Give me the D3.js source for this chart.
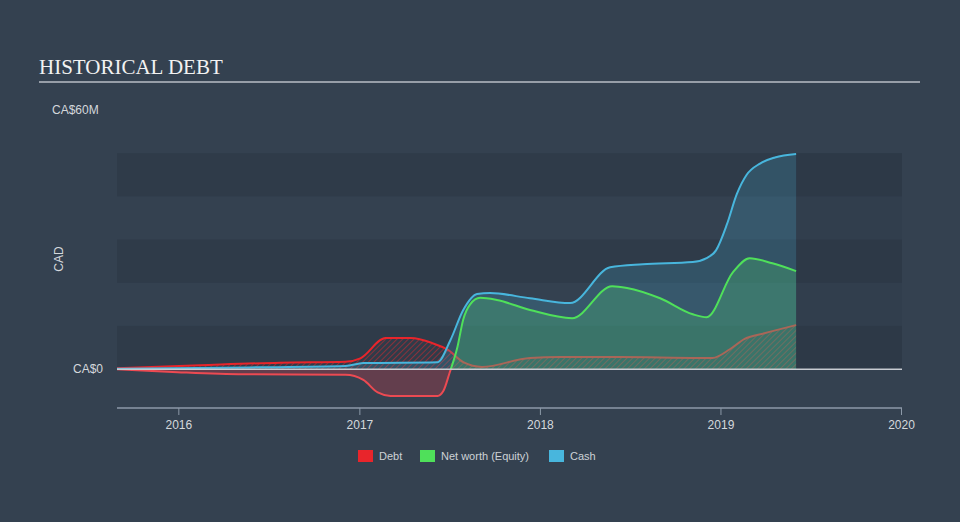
<!DOCTYPE html>
<html><head><meta charset="utf-8">
<script src="https://cdn.jsdelivr.net/npm/d3@7"></script>
<style>
html,body{margin:0;padding:0;background:#344150;}
svg{display:block;font-family:"Liberation Sans",Arial,sans-serif;}
</style></head>
<body><svg id="c" width="960" height="522"></svg>
<script>
// Values in CA$ millions
const debtDates = ["2015-08-30","2016-02-14","2016-07-25","2016-12-04","2017-01-03","2017-02-23","2017-04-15","2017-05-29","2017-06-30","2017-07-30","2017-09-06","2017-12-12","2018-02-11","2018-06-12","2018-11-20","2018-12-16","2019-01-20","2019-02-19","2019-03-31","2019-06-03"];
const debtValues = [0.2,0.9,1.5,1.7,2.5,7.2,7.2,6.0,4.4,1.6,0.5,2.6,2.8,2.8,2.6,2.6,4.6,7.0,8.3,10.2];

const equityDates = ["2015-08-30","2015-12-30","2016-05-11","2016-12-04","2017-01-09","2017-02-07","2017-03-05","2017-06-08","2017-06-20","2017-07-02","2017-07-18","2017-07-30","2017-08-13","2017-09-02","2017-10-06","2017-12-12","2018-03-07","2018-05-27","2018-06-26","2018-09-01","2018-11-06","2018-12-04","2019-01-26","2019-03-01","2019-04-16","2019-06-03"];
const equityValues = [0,-0.7,-1.2,-1.3,-2.5,-5.4,-6.2,-6.2,-5.0,-1.0,5.0,11.5,15.0,16.5,16.0,13.7,11.8,19.2,18.8,16.4,12.7,12.0,22.4,25.7,24.5,22.7];

const cashDates = ["2015-08-30","2016-05-25","2016-12-04","2017-01-09","2017-06-08","2017-07-04","2017-07-30","2017-08-27","2017-09-22","2017-12-12","2018-03-03","2018-05-23","2018-07-28","2018-11-06","2018-12-04","2018-12-23","2019-01-14","2019-02-03","2019-02-23","2019-03-22","2019-04-21","2019-06-03"];
const cashValues = [0.1,0.4,0.7,1.4,1.6,6.7,13.7,17.4,17.6,16.4,15.3,23.6,24.3,24.8,25.7,27.5,33.5,40.5,45.0,47.6,49.0,49.8];

const yearTicks = ["2016","2017","2018","2019","2020"];
const yTickValues = [0,60];
const yTickLabels = ["CA$0","CA$60M"];
const legendNames = ["Debt","Net worth (Equity)","Cash"];
const legendColors = ["#e8252b","#4fe05a","#48b6dd"];

const parse = d3.timeParse("%Y-%m-%d");
const zip = (ds, vs) => ds.map((d,i)=>({date:parse(d), v:vs[i]}));
const debt = zip(debtDates, debtValues);
const equity = zip(equityDates, equityValues);
const cash = zip(cashDates, cashValues);

const svg = d3.select("#c");
const W=960,H=522;
const x = d3.scaleTime().domain([parse("2015-08-30"), parse("2020-01-01")]).range([117, 901]);
const y = d3.scaleLinear().domain([-9, 60]).range([408, 110]);

svg.append("rect").attr("width",W).attr("height",H).attr("fill","#344150");

// title
svg.append("text").attr("x",39).attr("y",74).text("HISTORICAL DEBT")
  .attr("font-family","'Liberation Serif','Times New Roman',serif").attr("font-size",21).attr("fill","#f2f2f2");
svg.append("line").attr("x1",39).attr("x2",920).attr("y1",82).attr("y2",82).attr("stroke","#b8bec6").attr("stroke-width",1.5);

// bands
[[0,10],[20,30],[40,50]].forEach(b=>{
  svg.append("rect").attr("x",117).attr("width",902-117).attr("y",y(b[1])).attr("height",y(b[0])-y(b[1])).attr("fill","#2f3b49");
});

const defs = svg.append("defs");
const pat = defs.append("pattern").attr("id","hatch").attr("patternUnits","userSpaceOnUse")
  .attr("width",4).attr("height",4).attr("patternTransform","rotate(45)");
pat.append("line").attr("x1",0).attr("y1",0).attr("x2",0).attr("y2",4).attr("stroke","#e8252b").attr("stroke-width",1.4).attr("stroke-opacity",0.7);
defs.append("clipPath").attr("id","pos").append("rect").attr("x",0).attr("y",0).attr("width",W).attr("height",y(0));
defs.append("clipPath").attr("id","neg").append("rect").attr("x",0).attr("y",y(0)).attr("width",W).attr("height",H-y(0));

const curve = d3.curveMonotoneX;
const area = d3.area().x(d=>x(d.date)).y0(y(0)).y1(d=>y(d.v)).curve(curve);
const line = d3.line().x(d=>x(d.date)).y(d=>y(d.v)).curve(curve);

// debt
svg.append("path").attr("d",area(debt)).attr("fill","url(#hatch)");
svg.append("path").attr("d",line(debt)).attr("fill","none").attr("stroke","#e8252b").attr("stroke-width",2);

// equity area
svg.append("path").attr("d",area(equity)).attr("fill","#4fe05a").attr("fill-opacity",0.25).attr("clip-path","url(#pos)");
svg.append("path").attr("d",area(equity)).attr("fill","#e03a48").attr("fill-opacity",0.28).attr("clip-path","url(#neg)");
// cash area
svg.append("path").attr("d",area(cash)).attr("fill","#48b6dd").attr("fill-opacity",0.2);

// lines
svg.append("path").attr("d",line(equity)).attr("fill","none").attr("stroke","#4fe05a").attr("stroke-width",2).attr("clip-path","url(#pos)");
svg.append("path").attr("d",line(equity)).attr("fill","none").attr("stroke","#ec4a52").attr("stroke-width",2).attr("clip-path","url(#neg)");
svg.append("path").attr("d",line(cash)).attr("fill","none").attr("stroke","#48b6dd").attr("stroke-width",2);

// zero line
svg.append("line").attr("x1",117).attr("x2",902).attr("y1",y(0)).attr("y2",y(0)).attr("stroke","#c8ccd2").attr("stroke-width",1.5);

// future region overlay
const lastDate = cash[cash.length-1].date;
svg.append("rect").attr("x",x(lastDate)).attr("width",902-x(lastDate)).attr("y",y(50)).attr("height",y(0)-y(50)-1)
  .attr("fill","#283240").attr("fill-opacity",0.18);

// y labels
yTickValues.forEach((v,i)=>{
  svg.append("text").attr("x",i===0?103:52).attr("y",y(v)+4).attr("text-anchor",i===0?"end":"start")
    .attr("font-size",12).attr("fill","#d4d8dc").text(yTickLabels[i]);
});
svg.append("text").attr("transform",`translate(63,259) rotate(-90)`).attr("text-anchor","middle")
  .attr("font-size",12).attr("fill","#d4d8dc").text("CAD");

// x axis
const xAxis = d3.axisBottom(x).tickValues(yearTicks.map(t=>parse(t+"-01-01"))).tickFormat(d3.timeFormat("%Y")).tickSize(7).tickSizeOuter(0);
const gx = svg.append("g").attr("transform","translate(0,408)").call(xAxis);
gx.select(".domain").attr("d","M117,0H902").attr("stroke","#8c99a8").attr("stroke-width",1.5);
gx.selectAll(".tick line").attr("stroke","#8c99a8");
gx.selectAll(".tick text").attr("fill","#d4d8dc").attr("font-size",12).attr("dy","0.9em").attr("font-family","'Liberation Sans',Arial,sans-serif");

// legend
const lx = [358,420,549];
legendNames.forEach((n,i)=>{
  svg.append("rect").attr("x",lx[i]).attr("y",450).attr("width",15).attr("height",12).attr("fill",legendColors[i]);
  svg.append("text").attr("x",lx[i]+21).attr("y",460).attr("font-size",11).attr("fill","#cdd1d6").text(n);
});
</script></body></html>
